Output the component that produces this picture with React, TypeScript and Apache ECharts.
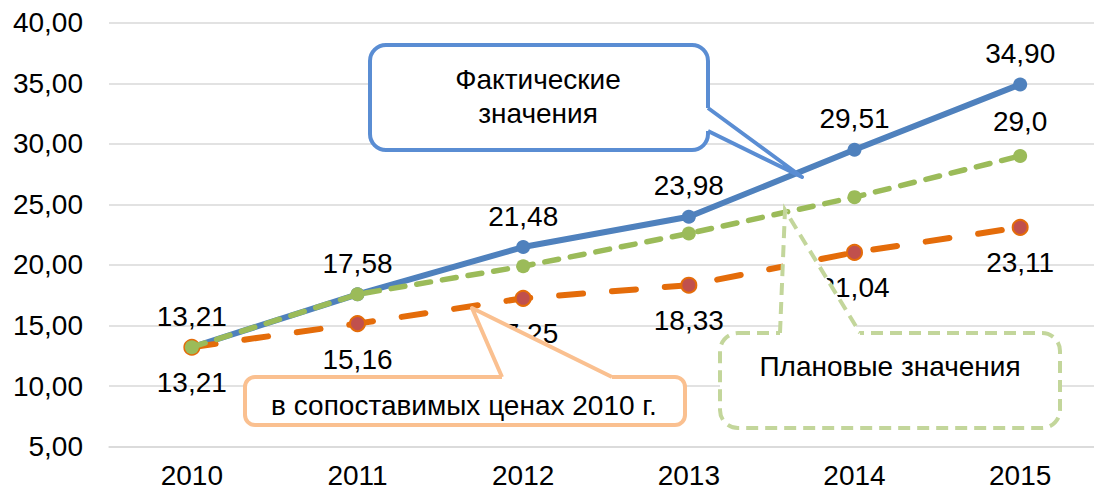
import React, { useEffect, useRef } from "react";
import * as echarts from "echarts";

const years = ["2010", "2011", "2012", "2013", "2014", "2015"];
const actual = [13.21, 17.58, 21.48, 23.98, 29.51, 34.9];
const planned = [13.21, 17.58, 19.9, 22.6, 25.6, 29.0];
const comparable = [13.21, 15.16, 17.25, 18.33, 21.04, 23.11];
const yTicks = { min: 5, max: 40, interval: 5 };

const FONT = "'Liberation Sans', Arial, sans-serif";
const FS = 28;
const fmt2 = (v: number) => v.toFixed(2).replace(".", ",");
const fmt1 = (v: number) => v.toFixed(1).replace(".", ",");

export default function App() {
  const ref = useRef<HTMLDivElement>(null);
  useEffect(() => {
    if (!ref.current) return;
    const chart = echarts.init(ref.current, undefined, { renderer: "svg" });
    const blue = "#5A8DD3";
    const green = "#C3D69B";
    const orange = "#FAC090";
    const option: any = {
      animation: false,
      backgroundColor: "#fff",
      grid: { left: 109, right: 0, top: 22.7, bottom: 45.3 },
      xAxis: {
        type: "category",
        data: years,
        boundaryGap: true,
        axisLine: { show: true, lineStyle: { color: "#D9D9D9", width: 1.5 } },
        axisTick: { show: false },
        axisLabel: {
          color: "#000",
          fontSize: FS,
          fontFamily: FONT,
          margin: 17,
          lineHeight: 24,
        },
      },
      yAxis: {
        type: "value",
        min: yTicks.min,
        max: yTicks.max,
        interval: yTicks.interval,
        axisLine: { show: false },
        axisTick: { show: false },
        splitLine: { lineStyle: { color: "#D9D9D9", width: 1.5 } },
        axisLabel: {
          color: "#000",
          fontSize: FS,
          fontFamily: FONT,
          margin: 26,
          formatter: (v: number) => fmt2(v),
        },
      },
      series: [
        {
          name: "Фактические значения",
          type: "line",
          data: actual,
          symbol: "circle",
          symbolSize: 14,
          itemStyle: { color: "#4F81BD" },
          lineStyle: { color: "#4F81BD", width: 6 },
          label: {
            show: true,
            position: "top",
            distance: 10,
            color: "#000",
            fontSize: FS,
            fontFamily: FONT,
            formatter: (p: any) => fmt2(p.value),
          },
          z: 3,
        },
        {
          name: "в сопоставимых ценах 2010 г.",
          type: "line",
          data: comparable,
          symbol: "circle",
          symbolSize: 15,
          itemStyle: { color: "#C0504D", borderColor: "#E46C0A", borderWidth: 2 },
          lineStyle: { color: "#E46C0A", width: 6, type: [24, 29], cap: "round" },
          label: {
            show: true,
            position: "bottom",
            distance: 13,
            color: "#000",
            fontSize: FS,
            fontFamily: FONT,
            formatter: (p: any) => fmt2(p.value),
          },
          z: 4,
        },
        {
          name: "Плановые значения",
          type: "line",
          data: planned.map((v, i) =>
            i === planned.length - 1 ? { value: v, label: { show: true } } : v
          ),
          symbol: "circle",
          symbolSize: 14,
          itemStyle: { color: "#9BBB59" },
          lineStyle: { color: "#9BBB59", width: 5.5, type: [14, 12], cap: "round" },
          label: {
            show: false,
            position: "top",
            distance: 13,
            color: "#000",
            fontSize: FS,
            fontFamily: FONT,
            formatter: (p: any) => fmt1(p.value),
          },
          z: 5,
        },
      ],
      graphic: [
        // Blue callout
        {
          type: "rect",
          z: 100,
          shape: { x: 370, y: 45, width: 338, height: 105, r: 16 },
          style: { fill: "#fff", stroke: blue, lineWidth: 4 },
        },
        {
          type: "polygon",
          z: 101,
          shape: { points: [[702, 108], [708, 108], [802, 177], [708, 131], [702, 131]] },
          style: { fill: "#fff", stroke: null },
        },
        {
          type: "polyline",
          z: 102,
          shape: { points: [[708, 108], [802, 177], [708, 131]] },
          style: { stroke: blue, lineWidth: 4, fill: null, lineJoin: "round" },
        },
        {
          type: "text",
          z: 103,
          x: 538,
          y: 96,
          style: {
            text: "Фактические\nзначения",
            fill: "#000",
            fontSize: FS,
            fontFamily: FONT,
            align: "center",
            verticalAlign: "middle",
            lineHeight: 34,
          },
        },
        // Green callout
        {
          type: "rect",
          z: 100,
          shape: { x: 720, y: 333, width: 340, height: 95, r: 18 },
          style: { fill: "#fff", stroke: green, lineWidth: 4, lineDash: [12, 7] },
        },
        {
          type: "polygon",
          z: 101,
          shape: { points: [[780, 339], [780, 333], [785, 210], [860, 333], [860, 339]] },
          style: { fill: "#fff", stroke: null },
        },
        {
          type: "polyline",
          z: 102,
          shape: { points: [[780, 333], [785, 210], [860, 333]] },
          style: { stroke: green, lineWidth: 4, fill: null, lineDash: [12, 7] },
        },
        {
          type: "text",
          z: 103,
          x: 890,
          y: 366,
          style: {
            text: "Плановые значения",
            fill: "#000",
            fontSize: FS,
            fontFamily: FONT,
            align: "center",
            verticalAlign: "middle",
          },
        },
        // Orange callout
        {
          type: "rect",
          z: 100,
          shape: { x: 245, y: 377, width: 440, height: 48, r: 10 },
          style: { fill: "#fff", stroke: orange, lineWidth: 4 },
        },
        {
          type: "polygon",
          z: 101,
          shape: { points: [[502, 383], [502, 377], [472, 308], [612, 377], [612, 383]] },
          style: { fill: "#fff", stroke: null },
        },
        {
          type: "polyline",
          z: 102,
          shape: { points: [[502, 377], [472, 308], [612, 377]] },
          style: { stroke: orange, lineWidth: 4, fill: null, lineJoin: "round" },
        },
        {
          type: "text",
          z: 103,
          x: 464,
          y: 405,
          style: {
            text: "в сопоставимых ценах 2010 г.",
            fill: "#000",
            fontSize: FS,
            fontFamily: FONT,
            align: "center",
            verticalAlign: "middle",
          },
        },
      ],
    };
    chart.setOption(option);
    return () => chart.dispose();
  }, []);
  return (
    <div
      style={{
        position: "fixed",
        left: 0,
        top: 0,
        width: 1094,
        height: 492,
        overflow: "hidden",
        background: "#fff",
      }}
    >
      <div ref={ref} style={{ width: 1103, height: 492 }} />
    </div>
  );
}
